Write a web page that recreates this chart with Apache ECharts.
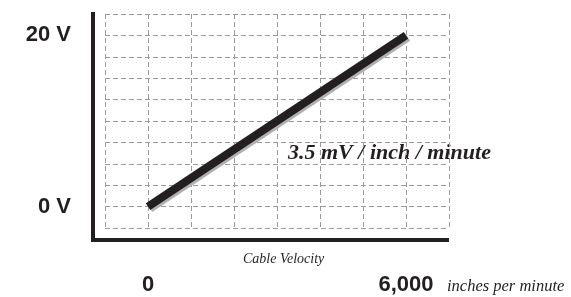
<!DOCTYPE html>
<html>
<head>
<meta charset="utf-8">
<script src="https://cdn.jsdelivr.net/npm/echarts@6/dist/echarts.min.js"></script>
<style>
  html, body { margin: 0; padding: 0; background: #fff; }
  #chart { width: 571px; height: 297px; }
</style>
</head>
<body>
<div id="chart"></div>
<script>
// cable velocity (inches per minute) vs output voltage
var velocity = [0, 6000];
var volts = [0, 20];
var xTicks = [0, 6000];
var xTickLabels = ['0', '6,000'];
var yTicks = [0, 20];
var yTickLabels = ['0 V', '20 V'];

var ink = '#231f20';
var sans = '"Liberation Sans", Arial, sans-serif';
var serif = '"Liberation Serif", "Times New Roman", serif';

var myChart = echarts.init(document.getElementById('chart'));

var option = {
    animation: false,
    grid: [
        // dashed area holding the line
        { left: 105, right: 122, top: 14, bottom: 69, outerBoundsMode: 'none', containLabel: false },
        // the black L shaped frame
        { left: 93, right: 124, top: 14, bottom: 57, outerBoundsMode: 'none', containLabel: false }
    ],
    xAxis: [
        {
            type: 'value', gridIndex: 0,
            min: -1000, max: 7000, interval: 1000,
            axisLine: { show: false },
            axisTick: { show: false },
            axisLabel: {
                margin: 46,
                color: ink,
                fontFamily: sans,
                fontWeight: 'bold',
                fontSize: 22,
                formatter: function (v) {
                    var i = xTicks.indexOf(v);
                    return i < 0 ? '' : xTickLabels[i];
                }
            },
            splitLine: { show: true, lineStyle: { color: '#9a9a9a', width: 1, type: [5, 3] } }
        },
        {
            type: 'value', gridIndex: 1, min: 0, max: 1,
            axisLine: { show: true, onZero: false, lineStyle: { color: ink, width: 4, cap: 'square' } },
            axisTick: { show: false }, axisLabel: { show: false }, splitLine: { show: false }
        }
    ],
    yAxis: [
        {
            type: 'value', gridIndex: 0,
            min: -2.5, max: 22.5, interval: 2.5,
            axisLine: { show: false },
            axisTick: { show: false },
            axisLabel: {
                margin: 34,
                color: ink,
                fontFamily: sans,
                fontWeight: 'bold',
                fontSize: 22,
                formatter: function (v) {
                    var i = yTicks.indexOf(v);
                    return i < 0 ? '' : yTickLabels[i];
                }
            },
            splitLine: { show: true, lineStyle: { color: '#9a9a9a', width: 1, type: [5, 3] } }
        },
        {
            type: 'value', gridIndex: 1, min: 0, max: 1,
            axisLine: { show: true, onZero: false, lineStyle: { color: ink, width: 4, cap: 'square' } },
            axisTick: { show: false }, axisLabel: { show: false }, splitLine: { show: false }
        }
    ],
    graphic: [
        {
            type: 'text', left: 243, top: 252,
            style: { text: 'Cable Velocity', fill: ink, font: 'italic 14px ' + serif }
        },
        {
            type: 'text', left: 447, top: 278,
            style: { text: 'inches per minute', fill: ink, font: 'italic 16.5px ' + serif }
        },
        {
            type: 'text', left: 288, top: 142,
            style: { text: '3.5 mV / inch / minute', fill: ink, font: 'italic bold 22px ' + serif }
        }
    ],
    series: [
        {
            type: 'line',
            xAxisIndex: 0, yAxisIndex: 0,
            data: velocity.map(function (v, i) { return [v, volts[i]]; }),
            showSymbol: false,
            symbol: 'none',
            lineStyle: {
                color: ink, width: 8, cap: 'butt',
                shadowColor: '#b0b0b0', shadowBlur: 0, shadowOffsetX: 2, shadowOffsetY: 2
            }
        }
    ]
};

myChart.setOption(option);
</script>
</body>
</html>
